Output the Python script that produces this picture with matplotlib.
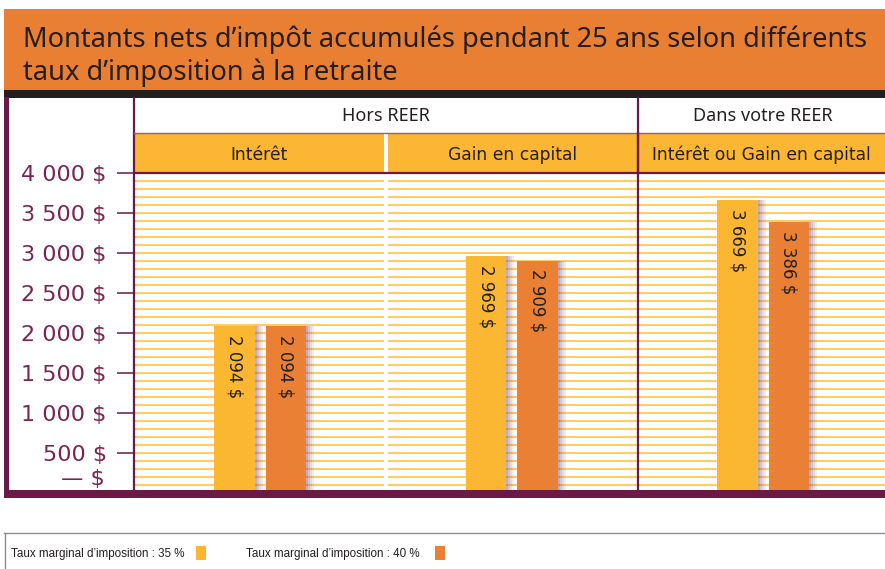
import matplotlib
matplotlib.use("Agg")
import matplotlib.pyplot as plt
from matplotlib.patches import Rectangle
from matplotlib.transforms import blended_transform_factory, offset_copy
import numpy as np

# ---------------- data ----------------
title_line1 = "Montants nets d\u2019imp\u00f4t accumul\u00e9s pendant 25 ans selon diff\u00e9rents"
title_line2 = "taux d\u2019imposition \u00e0 la retraite"
groups = ["Hors REER", "Dans votre REER"]
categories = ["Int\u00e9r\u00eat", "Gain en capital", "Int\u00e9r\u00eat ou Gain en capital"]
series_names = ["Taux marginal d\u2019imposition : 35 %", "Taux marginal d\u2019imposition : 40 %"]
values_35 = [2094, 2969, 3669]
values_40 = [2094, 2909, 3386]
bar_labels_35 = ["2 094 $", "2 969 $", "3 669 $"]
bar_labels_40 = ["2 094 $", "2 909 $", "3 386 $"]
y_ticks = [0, 500, 1000, 1500, 2000, 2500, 3000, 3500, 4000]
y_tick_labels = ["\u2014 $", "500 $", "1 000 $", "1 500 $", "2 000 $", "2 500 $", "3 000 $", "3 500 $", "4 000 $"]

# ---------------- styles ----------------
W, H = 885, 569
ORANGE = "#E97F33"
DARK = "#231F20"
MAROON = "#6B1A45"
MAROON_TXT = "#7A2452"
HDR_YEL = "#FBB734"
BAR_YEL = "#FBB732"
BAR_ORA = "#E98034"
STRIPE = "#FFCC66"
SANS2 = ["Noto Sans", "DejaVu Sans"]

fig = plt.figure(figsize=(W / 100, H / 100), dpi=100)
fig.patch.set_facecolor("white")

# data axes (pixel layout)
ax_left, ax_right = 134.5, 885.0
ax_top, ax_bot = 173.3, 493.3
ax = fig.add_axes([ax_left / W, (H - ax_bot) / H, (ax_right - ax_left) / W, (ax_bot - ax_top) / H])
ax.set_facecolor("white")
ax.set_xlim(-0.5, 2.484)
ax.set_ylim(0, 4000)
for s in ax.spines.values():
    s.set_visible(False)
ax.set_xticks([])
ax.set_yticks(y_ticks)
ax.set_yticklabels([""] + y_tick_labels[1:])
ax.tick_params(axis="y", length=13, width=1.4, color="#8A4A6E", pad=7,
               labelsize=16, labelcolor=MAROON_TXT)
# zero label sits a little above the bottom band
zero_tr = offset_copy(blended_transform_factory(ax.transAxes, ax.transData), fig=fig,
                      x=-29.5, y=14, units="dots")
ax.text(0, y_ticks[0], y_tick_labels[0], transform=zero_tr, ha="right", va="center",
        fontsize=16, color=MAROON_TXT, clip_on=False)

# stripes
ax.hlines(np.arange(100, 4000, 100), -0.5, 2.6, color=STRIPE, lw=1.5, zorder=0)
# white gap between first two panels
ax.axvline(0.5, color="white", lw=3, zorder=0.5)

x = np.arange(len(categories))
off = 0.102
bw = 0.16
shadow_alphas = [0.45, 0.32, 0.2, 0.1]
sw = 0.008
for xs, vals, col in ((x - off, values_35, BAR_YEL), (x + off, values_40, BAR_ORA)):
    for k, a in enumerate(shadow_alphas):
        ax.bar(xs + bw / 2 + sw * k, vals, width=sw, align="edge", color="#7A4A70",
               alpha=a, lw=0, zorder=1)
    ax.bar(xs, vals, width=bw, color=col, lw=0, zorder=2)

for xs, vals, labs in ((x - off, values_35, bar_labels_35), (x + off, values_40, bar_labels_40)):
    for xi, v, lab in zip(xs, vals, labs):
        ax.text(xi, v - 110, lab, rotation=270, ha="center", va="top", fontsize=12,
                color=DARK, zorder=3)

# ---------------- overlay for decoration ----------------
ov = fig.add_axes([0, 0, 1, 1], zorder=5)
ov.set_xlim(0, W)
ov.set_ylim(H, 0)
ov.axis("off")
ov.patch.set_alpha(0)

# title band
ov.add_patch(Rectangle((4, 9), W - 4, 81, color=ORANGE, lw=0))
ov.add_patch(Rectangle((4, 90), W - 4, 7.5, color=DARK, lw=0))
ov.text(23, 47, title_line1, fontsize=19.6, color=DARK, family=SANS2, va="baseline", ha="left")
ov.text(23, 80, title_line2, fontsize=19.6, color=DARK, family=SANS2, va="baseline", ha="left")

# borders
ov.add_patch(Rectangle((4, 97), 5, 400, color=MAROON, lw=0))
ov.add_patch(Rectangle((4, 490), W - 4, 7.5, color=MAROON, lw=0))
ov.plot([134, 134], [97, 490], color=MAROON, lw=1.6, solid_capstyle="butt")

tr = blended_transform_factory(ax.transData, ov.transData)
# separator between Hors REER and Dans votre REER
ov.plot([1.5, 1.5], [97, 490], color=MAROON, lw=1.6, transform=tr, solid_capstyle="butt")
# horizontal lines
ov.plot([134, W], [132.5, 132.5], color="#9A5C7E", lw=1.0)
# category headers
panel_edges = [(-0.5, 0.492), (0.508, 1.5), (1.5, 2.6)]
for (a, b), cat in zip(panel_edges, categories):
    ov.add_patch(Rectangle((a, 133.2), b - a, 39.3, facecolor=HDR_YEL, lw=0, transform=tr))
    ov.text((a + min(b, 2.484)) / 2, 155, cat, transform=tr, ha="center", va="center",
            fontsize=12.3, color=DARK)
ov.plot([134, W], [173.3, 173.3], color=MAROON, lw=1.6)
ov.plot([1.5, 1.5], [133, 174], color=MAROON, lw=1.6, transform=tr)

# group headers
ov.text(0.5, 116, groups[0], transform=tr, ha="center", va="center", fontsize=13,
        color=DARK, family=SANS2)
ov.text(2.0, 116, groups[1], transform=tr, ha="center", va="center", fontsize=13,
        color=DARK, family=SANS2)

# legend
ov.plot([4, W], [533, 533], color="#8C8C8C", lw=1.0)
ov.plot([4.5, 4.5], [533, H], color="#8C8C8C", lw=1.0)
leg_fam = ["Liberation Sans", "DejaVu Sans"]
ov.text(11, 554, series_names[0], fontsize=8.4, color=DARK, family=leg_fam, va="center", ha="left")
ov.add_patch(Rectangle((196, 546), 10, 14, color=BAR_YEL, lw=0))
ov.text(246, 554, series_names[1], fontsize=8.4, color=DARK, family=leg_fam, va="center", ha="left")
ov.add_patch(Rectangle((435, 546), 10, 14, color=BAR_ORA, lw=0))

fig.savefig("out.png", dpi=100)
